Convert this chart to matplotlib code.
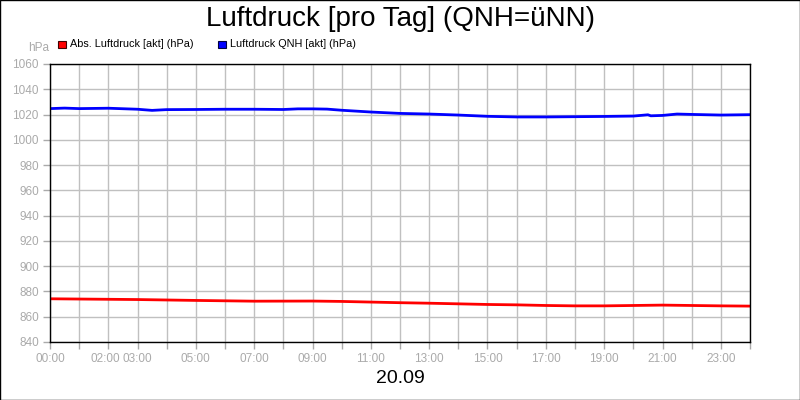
import matplotlib.pyplot as plt
from matplotlib.patches import Rectangle
from matplotlib.transforms import ScaledTranslation

plt.rcParams['font.family'] = ['Liberation Sans', 'DejaVu Sans']

# Messwerte (Stunden seit 00:00)
stunden_qnh = [0, 0.5, 1, 2, 3, 3.5, 4, 5, 6, 7, 8, 8.5, 9, 9.5, 10, 11, 12,
               13, 14, 15, 16, 17, 18, 19, 20, 20.5, 20.6, 21, 21.5, 22, 23, 24]
qnh = [1024.7, 1025.1, 1024.7, 1025.0, 1024.2, 1023.3, 1023.9, 1024.0, 1024.2,
       1024.2, 1024.0, 1024.5, 1024.5, 1024.3, 1023.4, 1022.0, 1020.9,
       1020.4, 1019.6, 1018.6, 1018.1, 1018.1, 1018.3, 1018.5, 1018.8, 1019.8,
       1019.0, 1019.3, 1020.4, 1020.1, 1019.6, 1019.9]

stunden_abs = [0, 3, 5, 7, 9, 10, 11, 12, 13, 14, 15, 16, 17, 18, 19, 20, 21,
               22, 23, 24]
abs_druck = [874.2, 873.6, 872.9, 872.3, 872.4, 872.1, 871.6, 871.1, 870.7,
             870.2, 869.7, 869.4, 868.9, 868.6, 868.6, 868.9, 869.2, 868.9,
             868.6, 868.4]

xticks = list(range(25))
xlabels = ['00:00', '', '02:00', '03:00', '', '05:00', '', '07:00', '', '09:00',
           '', '11:00', '', '13:00', '', '15:00', '', '17:00', '', '19:00', '',
           '21:00', '', '23:00', '']
yticks = list(range(840, 1061, 20))

grau = '#aaaaaa'

fig = plt.figure(figsize=(8, 4), dpi=100)
ax = fig.add_axes([0.0625, 0.145, 0.875, 0.695])

ax.plot(stunden_abs, abs_druck, color='#ff0000', lw=2)
ax.plot(stunden_qnh, qnh, color='#0000ff', lw=2)

ax.set_xlim(0, 24)
ax.set_ylim(840, 1060)
ax.set_xticks(xticks)
ax.set_xticklabels(xlabels)
ax.set_yticks(yticks)
ax.grid(True, color='#c0c0c0', lw=1)
ax.set_axisbelow(True)
ax.tick_params(colors=grau, labelsize=8.5, length=5, width=1, pad=3)
for s in ax.spines.values():
    s.set_color('black')
    s.set_linewidth(1)

# 02:00 etwas nach links, damit es nicht an 03:00 klebt
lab = ax.get_xticklabels()[2]
lab.set_transform(lab.get_transform() + ScaledTranslation(-2.5 / 72, 0, fig.dpi_scale_trans))

# Titel, Datum, Einheit
fig.text(0.5, 0.952, 'Luftdruck [pro Tag] (QNH=üNN)', ha='center', va='center',
         fontsize=20)
fig.text(0.5, 0.053, '20.09', ha='center', va='center', fontsize=14)
fig.text(0.048, 0.88, 'hPa', ha='center', va='center', fontsize=8.5, color=grau)

# Legende
fig.add_artist(Rectangle((0.073, 0.88), 0.009, 0.018, transform=fig.transFigure,
                         facecolor='#ff0000', edgecolor='#400000', lw=0.8))
fig.text(0.087, 0.889, 'Abs. Luftdruck [akt] (hPa)', va='center', fontsize=7.8)
fig.add_artist(Rectangle((0.273, 0.88), 0.009, 0.018, transform=fig.transFigure,
                         facecolor='#0000ff', edgecolor='#000040', lw=0.8))
fig.text(0.287, 0.889, 'Luftdruck QNH [akt] (hPa)', va='center', fontsize=7.8)

# Rahmen um das Bild
fig.add_artist(Rectangle((0.0006, 0.0012), 0.9988, 0.9976, transform=fig.transFigure,
                         fill=False, edgecolor='black', lw=1))

fig.savefig('out.png', dpi=100)
